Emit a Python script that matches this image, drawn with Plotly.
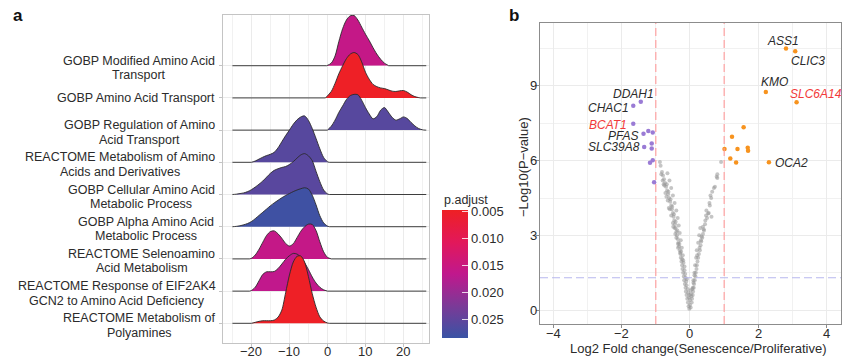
import plotly.graph_objects as go
from plotly.colors import sample_colorscale

W, H = 859, 358


def PX(x):
    return x / W


def PY(y):
    return 1 - y / H


FONT = "Liberation Sans, Arial, Helvetica, sans-serif"
TXT = "#2b2b2b"

# ---------------- Panel a : ridgeline data ----------------
pathways = [
    "GOBP Modified Amino Acid<br>Transport",
    "GOBP Amino Acid Transport",
    "GOBP Regulation of Amino<br>Acid Transport",
    "REACTOME Metabolism of Amino<br>Acids and Derivatives",
    "GOBP Cellular Amino Acid<br>Metabolic Process",
    "GOBP Alpha Amino Acid<br>Metabolic Process",
    "REACTOME Selenoamino<br>Acid Metabolism",
    "REACTOME Response of EIF2AK4<br>GCN2 to Amino Acid Deficiency",
    "REACTOME Metabolism of<br>Polyamines",
]
p_adjust = [0.0160, 0.0050, 0.0258, 0.0258, 0.0256, 0.0280, 0.0160, 0.0165, 0.0050]

ridge1_x = [-0.2, 1, 2, 3, 4, 5, 6, 7, 8, 9, 10, 11, 12, 13, 14, 15, 16]
ridge1_h = [0, 0.08, 0.3, 0.75, 1.15, 1.42, 1.55, 1.56, 1.42, 1.2, 0.98, 0.78, 0.56, 0.36, 0.2, 0.08, 0.01]

ridge2_x = [-0.5, 1, 2, 3, 4, 5, 6, 7, 8, 9, 10, 11, 12, 13, 14, 15, 16, 17, 18, 19, 20, 21, 22, 23, 24, 24.5]
ridge2_h = [0, 0.2, 0.45, 0.75, 1.0, 1.22, 1.36, 1.41, 1.35, 1.12, 0.8, 0.58, 0.42, 0.35, 0.31, 0.29, 0.25, 0.21, 0.2, 0.22, 0.23, 0.18, 0.1, 0.04, 0.01, 0]

ridge3_x = [0, 1, 2, 3, 4, 5, 6, 7, 8, 9, 10, 11, 12, 13, 14, 15, 16, 17, 18, 19, 20, 21, 22, 23, 24, 25, 25.7]
ridge3_h = [0, 0.12, 0.31, 0.55, 0.75, 0.95, 1.07, 1.11, 1.1, 0.93, 0.7, 0.5, 0.35, 0.42, 0.62, 0.7, 0.56, 0.4, 0.31, 0.35, 0.41, 0.36, 0.24, 0.13, 0.05, 0.01, 0]

ridge4_x = [-20, -19, -18, -17, -16, -15, -14, -13, -12, -11, -10, -9, -8, -7, -6, -5, -4, -3, -2, -1, 0, 0.5]
ridge4_h = [0, 0.04, 0.1, 0.16, 0.21, 0.25, 0.31, 0.45, 0.64, 0.83, 1.0, 1.18, 1.32, 1.41, 1.44, 1.3, 1.05, 0.74, 0.42, 0.15, 0.02, 0]

ridge5_x = [-25, -24, -23, -22, -21, -20, -19, -18, -17, -16, -15, -14, -13, -12, -11, -10, -9, -8, -7, -6, -5, -4, -3, -2, -1, 0, 0.5]
ridge5_h = [0, 0.01, 0.03, 0.05, 0.09, 0.15, 0.23, 0.32, 0.42, 0.54, 0.66, 0.75, 0.8, 0.84, 0.87, 0.93, 1.02, 1.13, 1.23, 1.27, 1.2, 1.05, 0.72, 0.4, 0.14, 0.02, 0]

ridge6_x = [-25, -24, -23, -22, -21, -20, -19, -18, -17, -16, -15, -14, -13, -12, -11, -10, -9, -8, -7, -6, -5, -4, -3, -2, -1, 0, 0.5]
ridge6_h = [0, 0.01, 0.03, 0.06, 0.1, 0.16, 0.25, 0.35, 0.45, 0.55, 0.65, 0.74, 0.82, 0.9, 0.97, 1.03, 1.09, 1.14, 1.18, 1.21, 1.17, 0.98, 0.68, 0.34, 0.12, 0.02, 0]

ridge7_x = [-20.5, -20, -19, -18, -17, -16, -15, -14, -13, -12, -11, -10, -9, -8, -7, -6, -5, -4, -3, -2, -1, 0, 1]
ridge7_h = [0, 0.02, 0.12, 0.3, 0.52, 0.73, 0.85, 0.87, 0.78, 0.64, 0.48, 0.4, 0.47, 0.66, 0.86, 1.0, 1.08, 1.07, 0.88, 0.53, 0.22, 0.05, 0]

ridge8_x = [-20.5, -20, -19, -18, -17, -16, -15, -14, -13, -12, -11, -10, -9, -8, -7, -6, -5, -4, -3, -2, -1, 0]
ridge8_h = [0, 0.02, 0.12, 0.32, 0.52, 0.6, 0.6, 0.61, 0.7, 0.84, 0.99, 1.1, 1.17, 1.15, 1.05, 0.88, 0.67, 0.44, 0.25, 0.12, 0.04, 0]

ridge9_x = [-20, -19, -18, -17, -16, -15, -14, -13, -12, -11, -10, -9, -8, -7, -6, -5, -4, -3, -2, -1, 0, 0.5]
ridge9_h = [0, 0.03, 0.06, 0.08, 0.08, 0.08, 0.1, 0.19, 0.41, 0.95, 1.5, 1.9, 2.08, 2.09, 1.9, 1.45, 0.92, 0.5, 0.2, 0.07, 0.01, 0]

ridges_x = [ridge1_x, ridge2_x, ridge3_x, ridge4_x, ridge5_x, ridge6_x, ridge7_x, ridge8_x, ridge9_x]
ridges_h = [ridge1_h, ridge2_h, ridge3_h, ridge4_h, ridge5_h, ridge6_h, ridge7_h, ridge8_h, ridge9_h]

x_ticks_a = [-20, -10, 0, 10, 20]
cbar_ticks = [0.005, 0.010, 0.015, 0.020, 0.025]
P_MIN, P_MAX = 0.0048, 0.0285

# ---------------- Panel b : volcano data ----------------
gray_x = [-0.02, -0.04, 0.02, -0.06, 0.05, -0.08, 0.06, -0.1, 0.08, -0.12, 0.09, -0.13, 0.11, -0.15, 0.12,
          -0.17, 0.14, -0.18, 0.16, -0.2, 0.17, -0.22, 0.19, -0.23, 0.2, -0.25, 0.22, -0.27, 0.24, -0.28,
          0.26, -0.3, 0.29, -0.32, 0.31, -0.34, 0.33, -0.36, 0.36, -0.38, 0.38, -0.4, 0.4, -0.42, -0.44,
          0.44, -0.46, -0.48, 0.5, -0.5, 0.55, -0.53, -0.55, 0.58, -0.58, -0.61, 0.62, -0.64, -0.67, 0.7,
          -0.7, -0.73, -0.76, 0.78, -0.79, 0.8, -0.82, -0.86, -0.88, 0.91,
          -0.1, -0.13, -0.16, -0.19, -0.21, -0.24, -0.27, -0.3, -0.33, -0.36, -0.4, -0.45, -0.5, -0.55,
          -0.6, -0.66, -0.35, -0.4, -0.45, -0.5, -0.55, -0.62, -0.65, -0.72, -0.75, -0.8, -0.84,
          0.08, 0.1, 0.13, 0.15, 0.18, 0.2, 0.24, 0.27, 0.3, 0.45, 0.48, 0.6, 0.65,
          0.0, 0.0, -0.02, 0.02, -0.03, 0.03, -0.07, 0.07, -0.11, 0.1, -0.14, 0.13, -0.2, -0.26, -0.31,
          -0.37, -0.42, -0.47, -0.52, -0.57, -0.63, -0.68, 0.34, 0.41, 0.53, 0.63, 0.73, 0.8,
          -0.05, 0.04, -0.09, -0.16, -0.23, -0.29, -0.35, -0.43, -0.49, -0.59, -0.69, -0.77, 0.21, 0.28,
          0.32, 0.38, 0.47, 0.57]
gray_y = [0.05, 0.15, 0.1, 0.3, 0.3, 0.45, 0.45, 0.6, 0.6, 0.75, 0.75, 0.9, 0.9, 1.05, 1.05,
          1.2, 1.2, 1.35, 1.35, 1.5, 1.5, 1.65, 1.65, 1.8, 1.8, 1.95, 1.95, 2.1, 2.1, 2.25,
          2.25, 2.4, 2.4, 2.55, 2.6, 2.7, 2.75, 2.85, 2.9, 3.0, 3.05, 3.15, 3.25, 3.3, 3.45,
          3.45, 3.6, 3.75, 3.7, 3.9, 3.9, 4.05, 4.2, 4.2, 4.35, 4.5, 4.5, 4.65, 4.8, 4.9,
          4.95, 5.1, 5.25, 5.35, 5.4, 5.45, 5.55, 5.8, 5.95, 5.95,
          1.0, 1.3, 1.6, 1.9, 2.2, 2.5, 2.8, 3.1, 3.4, 3.7, 4.0, 4.3, 4.6, 4.9,
          5.2, 5.5, 2.5, 2.9, 3.3, 3.5, 3.8, 4.1, 4.4, 4.7, 5.0, 5.2, 5.45,
          0.9, 1.2, 1.5, 1.8, 2.1, 2.4, 2.7, 3.0, 3.3, 3.6, 4.0, 4.6, 4.75,
          0.2, 0.4, 0.6, 0.8, 0.5, 0.65, 0.85, 0.85, 1.15, 1.1, 1.45, 1.4, 2.0, 2.35, 2.65,
          3.2, 3.55, 3.85, 4.15, 4.45, 4.75, 5.05, 2.95, 3.2, 3.88, 3.75, 4.95, 5.3,
          0.7, 0.55, 1.25, 1.75, 2.05, 2.3, 2.65, 3.05, 3.35, 4.05, 4.55, 5.05, 2.2, 2.5,
          2.8, 3.35, 3.8, 4.3]

down_x = [-1.44, -1.66, -1.66, -1.36, -1.22, -1.09, -1.34, -1.12, -1.12, -1.09, -1.17, -1.05]
down_y = [8.37, 8.21, 7.48, 7.08, 7.19, 7.13, 6.55, 6.69, 6.49, 6.02, 5.92, 5.13]
down_genes = ["DDAH1", "CHAC1", "BCAT1", "PFAS", "", "", "SLC39A8", "", "", "", "", ""]

up_x = [2.81, 3.08, 2.22, 3.12, 2.31, 1.57, 1.23, 1.01, 1.39, 1.69, 1.70, 1.18, 1.35]
up_y = [10.51, 10.40, 8.76, 8.35, 5.94, 7.34, 6.96, 6.47, 6.47, 6.52, 6.40, 6.09, 5.93]
up_genes = ["ASS1", "CLIC3", "KMO", "SLC6A14", "OCA2", "", "", "", "", "", "", "", ""]

highlight_genes = ["BCAT1", "SLC6A14"]
fc_cut, p_cut = 1.0, 1.3
x_ticks_b = [-4, -2, 0, 2, 4]
y_ticks_b = [0, 3, 6, 9]

# ---------------- styling ----------------
cscale = [[0.0, "#3953A4"], [0.25, "#7B3A97"], [0.5, "#C0188D"], [0.75, "#E2185A"], [1.0, "#EE2024"]]
label_offsets = {  # gene: (xanchor, xshift px, yshift px)
    "ASS1": ("right", 14, 7), "CLIC3": ("left", -5, -10), "KMO": ("right", 23, 10),
    "SLC6A14": ("left", -8, 8), "OCA2": ("left", 5, -1), "DDAH1": ("right", 14, 8),
    "CHAC1": ("right", -3, -2), "BCAT1": ("right", -5, -1.5), "PFAS": ("right", -5, -2.5),
    "SLC39A8": ("right", -3, -0.5),
}

# Arial / Liberation Sans advance widths (per 1000 em) used to centre the second label line
ARIAL_W = {" ": 278, "A": 667, "B": 667, "C": 722, "D": 722, "E": 667, "F": 611, "G": 778, "I": 278,
           "K": 667, "M": 833, "N": 722, "O": 778, "P": 667, "R": 722, "S": 667, "T": 611,
           "2": 556, "4": 556, "a": 556, "b": 556, "c": 500, "d": 556, "e": 556, "f": 278, "g": 556,
           "h": 556, "i": 222, "l": 222, "m": 833, "n": 556, "o": 556, "p": 556, "r": 333, "s": 500,
           "t": 278, "u": 556, "v": 500, "y": 500}
LAB_SIZE = 12.5
LAB_RIGHT = 215.5
OUTLINE = "#2a2a2a"


def text_width(s, size):
    return sum(ARIAL_W.get(ch, 556) for ch in s) * size / 1000


def num(v):
    return f"{v:g}".replace("-", "\u2212")


fig = go.Figure()

n = len(pathways)
baselines = [n - i for i in range(n)]
XL, XR = -25, 26
for i in range(n):
    b = baselines[i]
    xs = list(ridges_x[i])
    ys = [b + h for h in ridges_h[i]]
    t = (P_MAX - p_adjust[i]) / (P_MAX - P_MIN)
    col = sample_colorscale(cscale, [min(max(t, 0), 1)])[0]
    # filled density (only over its support)
    fig.add_trace(go.Scatter(x=xs, y=ys, mode="lines", fill="toself", fillcolor=col,
                             line=dict(color=col, width=0, shape="spline", smoothing=0.8),
                             hoverinfo="skip", showlegend=False, xaxis="x", yaxis="y"))
    # outline: flat baseline outside the support, density curve inside
    if xs[0] > XL:
        fig.add_trace(go.Scatter(x=[XL, xs[0]], y=[b, b], mode="lines",
                                 line=dict(color=OUTLINE, width=0.9), hoverinfo="skip",
                                 showlegend=False, xaxis="x", yaxis="y"))
    if xs[-1] < XR:
        fig.add_trace(go.Scatter(x=[xs[-1], XR], y=[b, b], mode="lines",
                                 line=dict(color=OUTLINE, width=0.9), hoverinfo="skip",
                                 showlegend=False, xaxis="x", yaxis="y"))
    fig.add_trace(go.Scatter(x=xs, y=ys, mode="lines",
                             line=dict(color=OUTLINE, width=0.9, shape="spline", smoothing=0.8),
                             hoverinfo="skip", showlegend=False, xaxis="x", yaxis="y"))

# colorbar (dummy trace)
fig.add_trace(go.Scatter(
    x=[0] * n, y=[0] * n, mode="markers", xaxis="x", yaxis="y", showlegend=False, hoverinfo="skip",
    marker=dict(size=0.1, opacity=0, color=[-p for p in p_adjust], colorscale=cscale,
                cmin=-P_MAX, cmax=-P_MIN, showscale=True,
                colorbar=dict(x=PX(442), xanchor="left", y=PY(274), yanchor="middle",
                              len=128, lenmode="pixels", thickness=26, thicknessmode="pixels",
                              outlinewidth=0, xpad=0, ypad=0,
                              tickvals=[-v for v in cbar_ticks], ticktext=[f"{v:.3f}" for v in cbar_ticks],
                              ticks="inside", ticklen=6, tickwidth=1, tickcolor="rgba(255,255,255,0.8)",
                              tickfont=dict(size=13, color=TXT, family=FONT)))))

# volcano points
fig.add_trace(go.Scatter(x=gray_x, y=gray_y, mode="markers", xaxis="x2", yaxis="y2", showlegend=False,
                         marker=dict(size=4, color="rgba(150,150,150,0.55)", line=dict(width=0))))
fig.add_trace(go.Scatter(x=down_x, y=down_y, mode="markers", xaxis="x2", yaxis="y2", showlegend=False,
                         marker=dict(size=4.5, color="#9A7BD5", line=dict(width=0))))
fig.add_trace(go.Scatter(x=up_x, y=up_y, mode="markers", xaxis="x2", yaxis="y2", showlegend=False,
                         marker=dict(size=4.5, color="#F7931E", line=dict(width=0))))

annotations = []
tick_font = dict(size=13, color=TXT, family=FONT)
# pathway labels (one annotation per line, block right-aligned, lines centred)
for i in range(n):
    lines = pathways[i].split("<br>")
    lab_font = dict(size=LAB_SIZE, color=TXT, family=FONT)
    if len(lines) == 1:
        annotations.append(dict(text=lines[0], xref="paper", yref="y", x=PX(LAB_RIGHT), y=baselines[i],
                                xanchor="right", yanchor="middle", showarrow=False, borderpad=0,
                                font=lab_font))
    else:
        w1 = max(text_width(s, LAB_SIZE) for s in lines)
        cx = LAB_RIGHT - w1 / 2
        for s, shift in zip(lines, (5, -9.5)):
            annotations.append(dict(text=s, xref="paper", yref="y", x=PX(cx), y=baselines[i],
                                    xanchor="center", yanchor="middle", showarrow=False, borderpad=0,
                                    yshift=shift, font=lab_font))
# axis tick labels
for v in x_ticks_a:
    annotations.append(dict(text=num(v), xref="x", yref="paper", x=v, y=PY(351.5), xanchor="center",
                            yanchor="middle", showarrow=False, borderpad=0, font=tick_font))
for v in x_ticks_b:
    annotations.append(dict(text=num(v), xref="x2", yref="paper", x=v, y=PY(333.5), xanchor="center",
                            yanchor="middle", showarrow=False, borderpad=0, font=tick_font))
for v in y_ticks_b:
    annotations.append(dict(text=num(v), xref="paper", yref="y2", x=PX(537.5), y=v, xanchor="right",
                            yanchor="middle", showarrow=False, borderpad=0, font=tick_font))
# gene labels
for gx, gy, gn in list(zip(down_x, down_y, down_genes)) + list(zip(up_x, up_y, up_genes)):
    if not gn:
        continue
    anc, xs_, ys_ = label_offsets[gn]
    annotations.append(dict(text=f"<i>{gn}</i>", xref="x2", yref="y2", x=gx, y=gy, xanchor=anc,
                            yanchor="middle", showarrow=False, xshift=xs_, yshift=ys_, borderpad=0,
                            font=dict(size=12, family=FONT,
                                      color="#F23A3A" if gn in highlight_genes else TXT)))
# titles
annotations += [
    dict(text="<b>a</b>", xref="paper", yref="paper", x=PX(18), y=PY(15.5), showarrow=False,
         font=dict(size=17, color="#111", family=FONT), xanchor="center", yanchor="middle"),
    dict(text="<b>b</b>", xref="paper", yref="paper", x=PX(514), y=PY(16), showarrow=False,
         font=dict(size=17, color="#111", family=FONT), xanchor="center", yanchor="middle"),
    dict(text="p.adjust", xref="paper", yref="paper", x=PX(442), y=PY(200), showarrow=False,
         font=dict(size=12.5, color=TXT, family=FONT), xanchor="left", yanchor="middle"),
    dict(text="Log2 Fold change(Senescence/Proliferative)", xref="paper", yref="paper",
         x=PX(698), y=PY(348), showarrow=False, font=dict(size=13, color=TXT, family=FONT),
         xanchor="center", yanchor="middle"),
    dict(text="\u2212Log10(P\u2212value)", xref="paper", yref="paper", x=PX(524), y=PY(167),
         showarrow=False, textangle=-90, font=dict(size=13, color=TXT, family=FONT),
         xanchor="center", yanchor="middle"),
]

shapes = []
for xv in (-fc_cut, fc_cut):
    shapes.append(dict(type="line", xref="x2", yref="paper", x0=xv, x1=xv, y0=PY(324), y1=PY(23),
                       line=dict(color="#FF9A9A", width=1.1, dash="8px,4px"), layer="above"))
shapes.append(dict(type="line", xref="paper", yref="y2", x0=PX(540), x1=PX(841), y0=p_cut, y1=p_cut,
                   line=dict(color="#B8B8EE", width=1.1, dash="8px,4px"), layer="above"))

axis_common = dict(showline=True, mirror=True, zeroline=False, ticks="outside", ticklen=3,
                   showticklabels=False, gridcolor="#EBEBEB", gridwidth=0.8)

fig.update_layout(
    width=W, height=H, margin=dict(l=0, r=0, t=0, b=0),
    paper_bgcolor="white", plot_bgcolor="white",
    font=dict(family=FONT, color=TXT),
    xaxis=dict(domain=[PX(223.3), PX(429.3)], range=[-27.4, 26.8], tickvals=x_ticks_a,
               linecolor="#C4C4C4", tickcolor="#C4C4C4", linewidth=1,
               minor=dict(tickvals=[-25, -15, -5, 5, 15, 25], showgrid=True, gridcolor="#F1F1F1", ticks=""),
               anchor="y", **axis_common),
    yaxis=dict(domain=[PY(343.3), PY(15)], range=[0.379, 10.575], tickvals=baselines,
               linecolor="#C4C4C4", tickcolor="#C4C4C4", linewidth=1,
               anchor="x", **axis_common),
    xaxis2=dict(domain=[PX(540), PX(841)], range=[-4.39, 4.42], tickvals=x_ticks_b,
                linecolor="#8C8C8C", tickcolor="#8C8C8C", linewidth=1.2,
                minor=dict(tickvals=[-3, -1, 1, 3], showgrid=True, gridcolor="#F1F1F1", ticks=""),
                anchor="y2", **axis_common),
    yaxis2=dict(domain=[PY(324), PY(23)], range=[-0.56, 11.53], tickvals=y_ticks_b,
                linecolor="#8C8C8C", tickcolor="#8C8C8C", linewidth=1.2,
                minor=dict(tickvals=[1.5, 4.5, 7.5, 10.5], showgrid=True, gridcolor="#F1F1F1", ticks=""),
                anchor="x2", **axis_common),
    annotations=annotations, shapes=shapes,
)

# remove the browser's default page margin so the figure sits at the window's top-left corner
fig.write_html("out.html", config={"displayModeBar": False},
               post_script="document.body.style.margin='0';document.body.style.overflow='hidden';")
